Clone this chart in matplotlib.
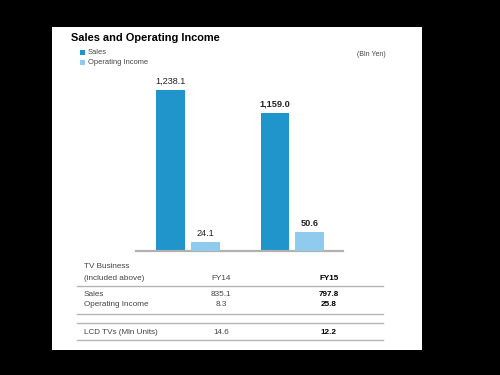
import matplotlib
matplotlib.use("Agg")
import matplotlib.pyplot as plt
from matplotlib.patches import Rectangle
from matplotlib.lines import Line2D

plt.rcParams['font.family'] = ['Liberation Sans', 'DejaVu Sans']

# ---- data -----------------------------------------------------------
years = ["FY14", "FY15"]
sales = [1238.1, 1159.0]
op_income = [24.1, 50.6]

tv_rows = ["Sales", "Operating Income"]
tv_fy14 = ["835.1", "8.3"]
tv_fy15 = ["797.8", "25.8"]
lcd_label = "LCD TVs (Mln Units)"
lcd_values = ["14.6", "12.2"]

C_SALES = "#1f95cb"
C_OP = "#8fcbec"
GREY = "#444444"

W, H = 500, 375
fig = plt.figure(figsize=(5, 3.75), dpi=100, facecolor="black")

def fx(px):
    return px / W

def fy(py):
    return 1 - py / H

# white slide panel (behind everything)
fig.patches.append(Rectangle((fx(52), fy(350)), fx(422) - fx(52), fy(27) - fy(350),
                             transform=fig.transFigure, facecolor="white",
                             edgecolor="none", zorder=-5))

# ---- bar chart ------------------------------------------------------
ax_left, ax_right, ax_top, ax_bot = 136, 343, 70, 251
ax = fig.add_axes([fx(ax_left), fy(ax_bot), fx(ax_right) - fx(ax_left), fy(ax_top) - fy(ax_bot)])
ax2 = ax.twinx()

x = [0, 1]
off, bw = 0.168, 0.27
ax.bar([i - off for i in x], sales, width=bw, color=C_SALES, zorder=2)
ax2.bar([i + off for i in x], op_income, width=bw, color=C_OP, zorder=2)

# bars are drawn not-to-scale in the original: sales on an offset axis
ax.set_ylim(685, 1307)
ax2.set_ylim(0.2, 480)
ax.set_xlim(-0.5, 1.49)

for a in (ax, ax2):
    a.set_facecolor("none")
    for s in a.spines.values():
        s.set_visible(False)
    a.set_xticks([])
    a.set_yticks([])
ax.spines["bottom"].set_visible(True)
ax.spines["bottom"].set_color("#b0b0b0")
ax.spines["bottom"].set_linewidth(1.6)

for i, v in enumerate(sales):
    ax.annotate(f"{v:,.1f}", (i - off, v), xytext=(0, 3), textcoords="offset points",
                ha="center", va="bottom", fontsize=6.6, color="#222222",
                fontweight="bold" if i == 1 else "normal")
for i, v in enumerate(op_income):
    ax2.annotate(f"{v:,.1f}", (i + off, v), xytext=(0, 3), textcoords="offset points",
                 ha="center", va="bottom", fontsize=6.6, color="#222222",
                 fontweight="bold" if i == 1 else "normal")

# ---- title / legend -------------------------------------------------
fig.text(fx(71), fy(38), "Sales and Operating Income", fontsize=7.9, fontweight="bold",
         va="center", ha="left", color="black")
for py, label, c in [(52, "Sales", C_SALES), (62, "Operating Income", C_OP)]:
    fig.patches.append(Rectangle((fx(80), fy(py + 2.5)), fx(5), 5 / H,
                                 transform=fig.transFigure, facecolor=c, edgecolor="none"))
    fig.text(fx(88), fy(py), label, fontsize=5.4, va="center", ha="left", color=GREY)
fig.text(fx(357), fy(55), "(Bln Yen)", fontsize=5, va="center", ha="left", color=GREY)

# ---- table ----------------------------------------------------------
col_x = [221, 329]
fs = 5.9
fig.text(fx(84), fy(267), "TV Business", fontsize=fs, va="center", color=GREY)
fig.text(fx(84), fy(278), "(included above)", fontsize=fs, va="center", color=GREY)
for j, yr in enumerate(years):
    fig.text(fx(col_x[j]), fy(278), yr, fontsize=fs, va="center", ha="center",
             color=GREY if j == 0 else "black", fontweight="normal" if j == 0 else "bold")

row_y = [295, 305]
for k, name in enumerate(tv_rows):
    fig.text(fx(84), fy(row_y[k]), name, fontsize=fs, va="center", color=GREY)
    fig.text(fx(col_x[0]), fy(row_y[k]), tv_fy14[k], fontsize=fs, va="center",
             ha="center", color=GREY)
    fig.text(fx(col_x[1]), fy(row_y[k]), tv_fy15[k], fontsize=fs, va="center",
             ha="center", color="black", fontweight="bold")

fig.text(fx(84), fy(332), lcd_label, fontsize=fs, va="center", color=GREY)
fig.text(fx(col_x[0]), fy(332), lcd_values[0], fontsize=fs, va="center", ha="center", color=GREY)
fig.text(fx(col_x[1]), fy(332), lcd_values[1], fontsize=fs, va="center", ha="center",
         color="black", fontweight="bold")

for py in [286, 314, 323, 340]:
    fig.lines.append(Line2D([fx(77), fx(383)], [fy(py), fy(py)], transform=fig.transFigure,
                            color="#b5b5b5", linewidth=1.0))

fig.savefig("out.png", dpi=100, facecolor="black")
